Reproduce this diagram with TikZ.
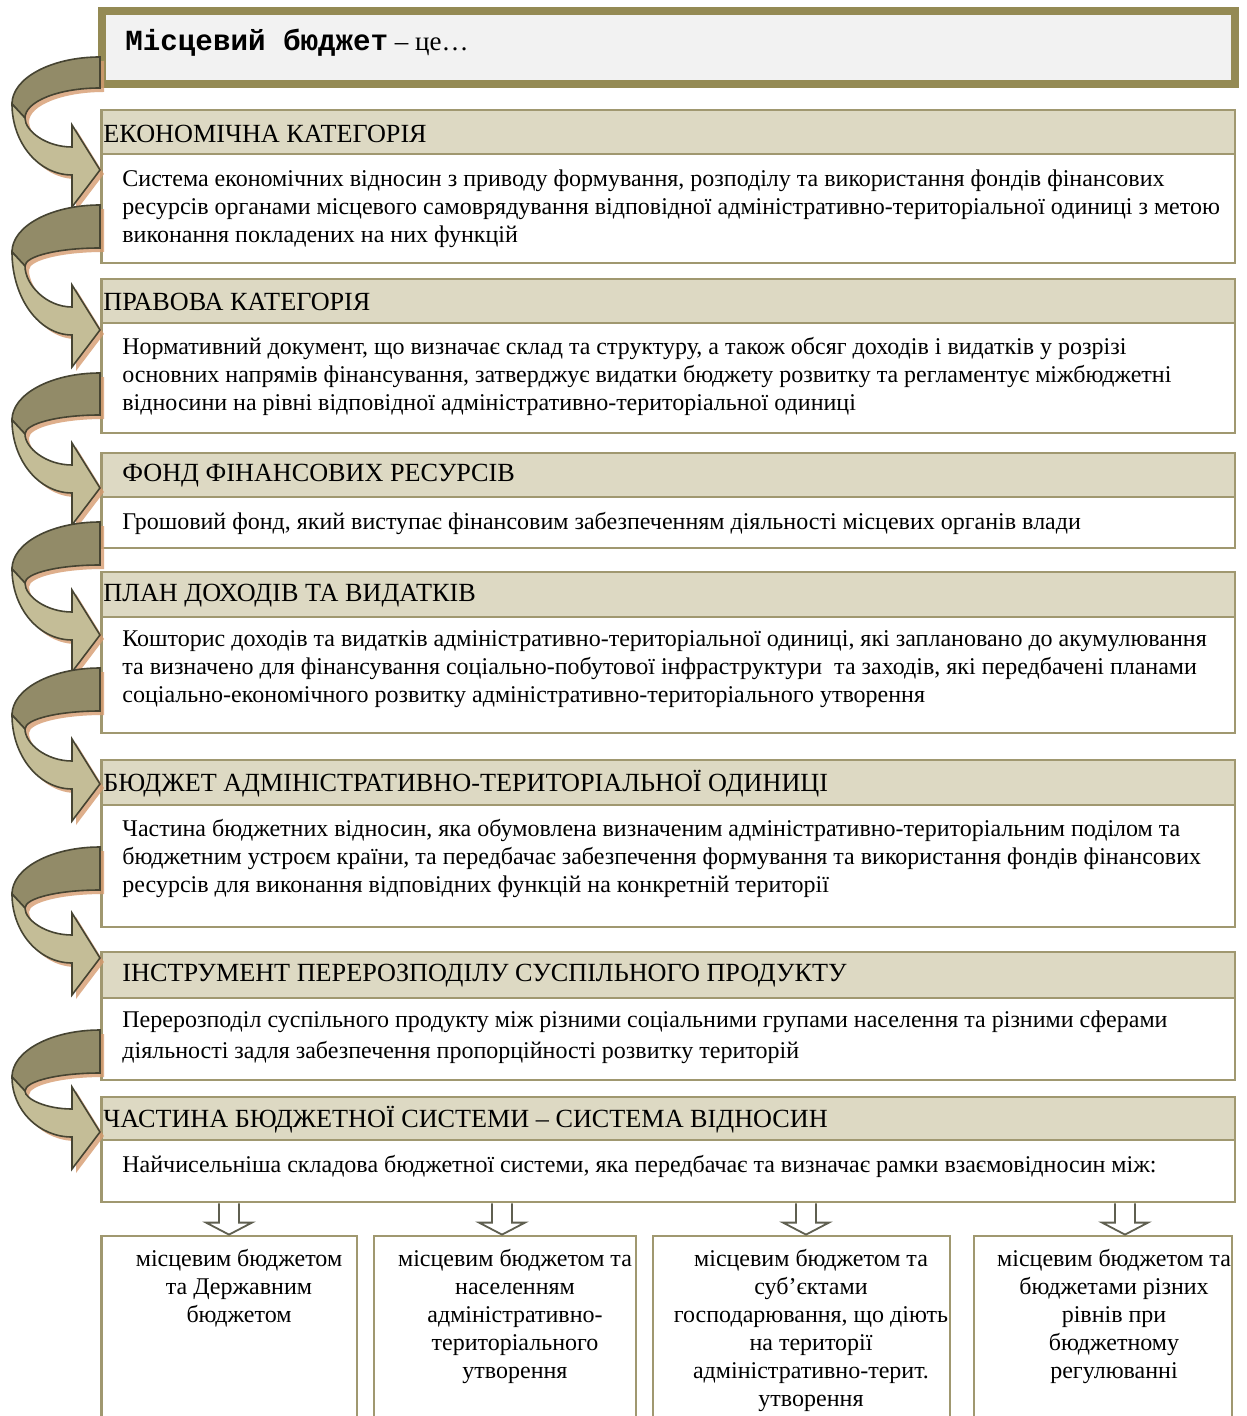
\documentclass[tikz,border=0pt]{standalone}
\usepackage{fontspec}
\setmainfont{Liberation Serif}
\newfontfamily\titlemono{Liberation Mono}
\usetikzlibrary{fit,calc}
\definecolor{olive}{RGB}{148,138,84}
\definecolor{boxline}{RGB}{160,152,112}
\definecolor{headfill}{RGB}{221,217,195}
\definecolor{topfill}{RGB}{242,242,242}
\definecolor{ribdark}{RGB}{146,139,104}
\definecolor{riblight}{RGB}{196,189,151}
\definecolor{ribline}{RGB}{70,68,50}
\definecolor{ribshadow}{RGB}{214,156,112}
\definecolor{arrline}{RGB}{95,95,80}
\tikzset{
  hbox/.style={draw=boxline, line width=1.4pt, fill=headfill, inner sep=0pt},
  bbox/.style={draw=boxline, line width=1.4pt, fill=white, inner sep=0pt},
  topbox/.style={draw=olive, line width=4pt, fill=topfill, inner sep=0pt},
  htext/.style={anchor=west, inner sep=0pt, font=\fontsize{13.1}{15}\selectfont},
  btext/.style={anchor=west, inner sep=0pt, align=left, font=\fontsize{12}{14}\selectfont},
  ltext/.style={anchor=north, inner sep=0pt, align=center, font=\fontsize{12}{14}\selectfont},
  harrow/.style={draw=arrline, line width=0.9pt, fill=white},
  ribd/.style={draw=ribline, line width=0.8pt, fill=ribdark},
  ribl/.style={draw=ribline, line width=0.8pt, fill=riblight},
  ribs/.style={fill=ribshadow, opacity=0.8},
}
% curved ribbon arrow: #1 = y of band top, #2 = band thickness, #3 = y of tip
\newcommand{\ribbonarrow}[3]{%
  \pgfmathsetmacro\ra{#1}%
  \pgfmathsetmacro\rt{#1+#2}%
  \pgfmathsetmacro\rR{#1+47}%
  \pgfmathsetmacro\rRc{#1+47-0.552*47}%
  \pgfmathsetmacro\rin{#1+61}%
  \pgfmathsetmacro\rinc{#1+61-0.552*(61-#2)}%
  \pgfmathsetmacro\rlo{#3+5}%
  \pgfmathsetmacro\rloc{#1+47+0.552*(#3+5-#1-47)}%
  \pgfmathsetmacro\rhb{#3+37}%
  \pgfmathsetmacro\rtip{#3}%
  \pgfmathsetmacro\rht{#3-45}%
  \pgfmathsetmacro\rup{#3-23}%
  \pgfmathsetmacro\rupc{#3-23-0.552*(#3-23-#1-61)}%
  \foreach \dx/\dy/\sa/\sb in {4/4/ribs/ribs, 0/0/ribd/ribl}{%
    \begin{scope}[shift={(\dx,\dy)}]
      \path[\sa] (100,\ra) .. controls (51.4,\ra) and (12,\rRc) .. (12,\rR)
        -- (25,\rin) .. controls (25,\rinc) and (58.6,\rt) .. (100,\rt) -- cycle;
      \path[\sb] (12,\rR) .. controls (12,\rloc) and (38.9,\rlo) .. (72,\rlo)
        -- (72,\rhb) -- (100,\rtip) -- (72,\rht) -- (72,\rup)
        .. controls (46,\rup) and (25,\rupc) .. (25,\rin) -- cycle;
    \end{scope}
  }%
}
\begin{document}
\begin{tikzpicture}[x=0.5pt,y=-0.5pt]
\clip (0,0) rectangle (1246,1416);
\fill[white] (0,0) rectangle (1246,1416);

% title box
\node[topbox, fit={(101.5,11.5) (1235,84)}] (top) {};
\node[anchor=west, inner sep=0pt] (toptext) at (125,43)
  {{\titlemono\bfseries\fontsize{14.6}{16}\selectfont Місцевий бюджет}\fontsize{13.5}{15}\selectfont{} – це…};

% sections
\node[hbox, fit={(101.5,110) (1235,154)}] (h1) {};
\node[bbox, fit={(101.5,154) (1235,263)}] (b1) {};
\node[hbox, fit={(101.5,279) (1235,323)}] (h2) {};
\node[bbox, fit={(101.5,323) (1235,433)}] (b2) {};
\node[hbox, fit={(101.5,453) (1235,497)}] (h3) {};
\node[bbox, fit={(101.5,497) (1235,548)}] (b3) {};
\node[hbox, fit={(101.5,572) (1235,617)}] (h4) {};
\node[bbox, fit={(101.5,617) (1235,733)}] (b4) {};
\node[hbox, fit={(101.5,760) (1235,805)}] (h5) {};
\node[bbox, fit={(101.5,805) (1235,927)}] (b5) {};
\node[hbox, fit={(101.5,952) (1235,998)}] (h6) {};
\node[bbox, fit={(101.5,998) (1235,1080)}] (b6) {};
\node[hbox, fit={(101.5,1097) (1235,1140)}] (h7) {};
\node[bbox, fit={(101.5,1140) (1235,1202)}] (b7) {};

\node[htext] (h1t) at (103,134) {ЕКОНОМІЧНА КАТЕГОРІЯ};
\node[btext] (b1t) at (122,209) {Система економічних відносин з приводу формування, розподілу та використання фондів фінансових\\ресурсів органами місцевого самоврядування відповідної адміністративно-територіальної одиниці з метою\\виконання покладених на них функцій};
\node[htext] (h2t) at (103,302) {ПРАВОВА КАТЕГОРІЯ};
\node[btext] (b2t) at (122,376) {Нормативний документ, що визначає склад та структуру, а також обсяг доходів і видатків у розрізі\\основних напрямів фінансування, затверджує видатки бюджету розвитку та регламентує міжбюджетні\\відносини на рівні відповідної адміністративно-територіальної одиниці};
\node[htext] (h3t) at (122,476) {ФОНД ФІНАНСОВИХ РЕСУРСІВ};
\node[btext] (b3t) at (122,523) {Грошовий фонд, який виступає фінансовим забезпеченням діяльності місцевих органів влади};
\node[htext] (h4t) at (103,596) {ПЛАН ДОХОДІВ ТА ВИДАТКІВ};
\node[btext] (b4t) at (122,669) {Кошторис доходів та видатків адміністративно-територіальної одиниці, які заплановано до акумулювання\\та визначено для фінансування соціально-побутової інфраструктури\ \ та заходів, які передбачені планами\\соціально-економічного розвитку адміністративно-територіального утворення};
\node[htext] (h5t) at (103,784) {БЮДЖЕТ АДМІНІСТРАТИВНО-ТЕРИТОРІАЛЬНОЇ ОДИНИЦІ};
\node[btext] (b5t) at (122,858) {Частина бюджетних відносин, яка обумовлена визначеним адміністративно-територіальним поділом та\\бюджетним устроєм країни, та передбачає забезпечення формування та використання фондів фінансових\\ресурсів для виконання відповідних функцій на конкретній території};
\node[htext] (h6t) at (122,976) {ІНСТРУМЕНТ ПЕРЕРОЗПОДІЛУ СУСПІЛЬНОГО ПРОДУКТУ};
\node[btext, font=\fontsize{12}{15.5}\selectfont] (b6t) at (122,1037) {Перерозподіл суспільного продукту між різними соціальними групами населення та різними сферами\\діяльності задля забезпечення пропорційності розвитку територій};
\node[htext] (h7t) at (103,1120) {ЧАСТИНА БЮДЖЕТНОЇ СИСТЕМИ – СИСТЕМА ВІДНОСИН};
\node[btext] (b7t) at (122,1166) {Найчисельніша складова бюджетної системи, яка передбачає та визначає рамки взаємовідносин між:};

% bottom boxes
\node[bbox, fit={(101.5,1236) (357,1430)}] (l1) {};
\node[bbox, fit={(374,1236) (636,1430)}] (l2) {};
\node[bbox, fit={(653,1236) (950,1430)}] (l3) {};
\node[bbox, fit={(974,1236) (1232,1430)}] (l4) {};
\node[ltext] (l1t) at (239,1249) {місцевим бюджетом\\та Державним\\бюджетом};
\node[ltext] (l2t) at (515,1249) {місцевим бюджетом та\\населенням\\адміністративно-\\територіального\\утворення};
\node[ltext] (l3t) at (811,1249) {місцевим бюджетом та\\суб’єктами\\господарювання, що діють\\на території\\адміністративно-терит.\\утворення};
\node[ltext] (l4t) at (1114,1249) {місцевим бюджетом та\\бюджетами різних\\рівнів при\\бюджетному\\регулюванні};

% hollow down arrows
\foreach \cx/\tg in {229/l1, 502/l2, 806/l3, 1125/l4}{
  \coordinate (ax) at (\cx,0);
  \draw[harrow] ($(b7.south -| ax)+(-10,0)$) -- ($(\tg.north -| ax)+(-10,-12)$)
    -- ++(-13,0) -- (\tg.north -| ax) -- ++(23,-12) -- ++(-13,0)
    -- ($(b7.south -| ax)+(10,0)$);
}

% curved ribbon arrows
\ribbonarrow{57}{31}{170}
\ribbonarrow{205}{43}{330}
\ribbonarrow{373}{42}{488}
\ribbonarrow{522}{43}{635}
\ribbonarrow{668}{43}{784}
\ribbonarrow{847}{43}{958}
\ribbonarrow{1030}{43}{1132}
\end{tikzpicture}
\end{document}
